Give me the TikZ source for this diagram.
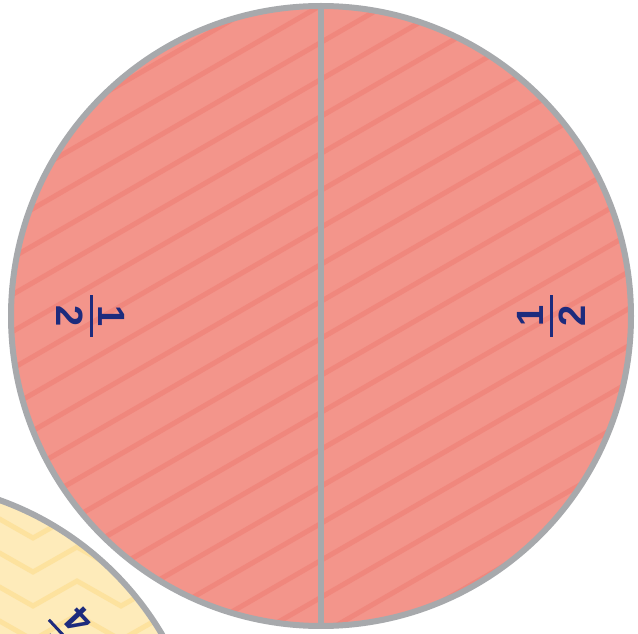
\documentclass[tikz,border=0pt]{standalone}
\usepackage{fontspec}
\setmainfont{Liberation Sans}
\definecolor{redfill}{RGB}{243,149,139}
\definecolor{redstripe}{RGB}{240,135,125}
\definecolor{rimgray}{RGB}{167,169,172}
\definecolor{yelfill}{RGB}{254,235,186}
\definecolor{yelstripe}{RGB}{253,226,158}
\definecolor{navy}{RGB}{29,43,125}
\tikzset{
  rim/.style={draw=rimgray,line width=6pt},
  divider/.style={draw=rimgray,line width=6.5pt},
  stripe/.style={draw=redstripe,line width=5pt},
  zig/.style={draw=yelstripe,line width=5pt},
  digit/.style={text=navy,font=\fontsize{38}{40}\selectfont\bfseries,inner sep=0pt,outer sep=0pt},
  fracbar/.style={fill=navy,minimum width=42pt,minimum height=3pt,inner sep=0pt,outer sep=0pt},
}
\begin{document}
\begin{tikzpicture}[x=1pt,y=1pt]
\useasboundingbox (0,0) rectangle (638,633);
\clip (0,0) rectangle (638,633);
\coordinate (Y) at (-105,-159);
\coordinate (R) at (321,317);
% yellow circle (partly visible)
\fill[yelfill] (Y) circle (310);
\begin{scope}
  \clip (Y) circle (310);
  \foreach \k in {-3,...,7} {
    \draw[zig] (-11,{86+34*\k}) \foreach \j in {1,...,3} { -- ++(44,-25) -- ++(44,25) };
  }
\end{scope}
\draw[rim] (Y) circle (310);
% red circle
\fill[redfill] (R) circle (310);
\begin{scope}
  \clip (R) circle (310);
  \foreach \k in {-12,...,17} {
    \draw[stripe] (0,{35.3+37*\k}) -- (640,{35.3+37*\k+369.5});
  }
\end{scope}
\coordinate (Rt) at (321,627);
\coordinate (Rb) at (321,7);
\draw[divider] (Rt) -- (Rb);
\draw[rim] (R) circle (310);
% labels red
\begin{scope}[shift={(R)}]
  \node[fracbar,rotate=270] (lbar) at (180:230) {};
  \node[digit,rotate=270] (lnum) at (180:209) {1};
  \node[digit,rotate=270] (lden) at (180:251) {2};
  \node[fracbar,rotate=90] (rbar) at (0:230) {};
  \node[digit,rotate=90] (rnum) at (0:209) {1};
  \node[digit,rotate=90] (rden) at (0:251) {2};
\end{scope}
% label yellow
\begin{scope}[shift={(Y)}]
  \node[fracbar,rotate=133] (ybar) at (43:230) {};
  \node[digit,rotate=133] (ynum) at (43:209) {1};
  \node[digit,rotate=133] (yden) at (43:251) {4};
\end{scope}
\end{tikzpicture}
\end{document}
